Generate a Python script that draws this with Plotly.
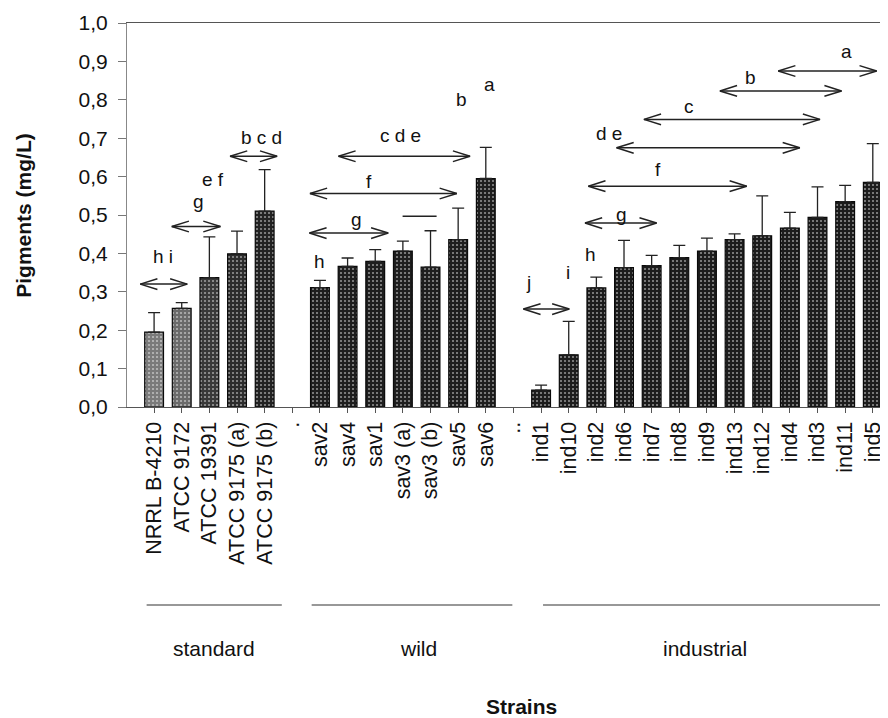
import plotly.graph_objects as go

# ---------------- data ----------------
standard_strains = ["NRRL B-4210", "ATCC 9172", "ATCC 19391", "ATCC 9175 (a)", "ATCC 9175 (b)"]
standard_means = [0.195, 0.257, 0.337, 0.399, 0.510]
standard_sd = [0.051, 0.015, 0.106, 0.059, 0.108]

wild_strains = ["sav2", "sav4", "sav1", "sav3 (a)", "sav3 (b)", "sav5", "sav6"]
wild_means = [0.311, 0.366, 0.379, 0.406, 0.364, 0.436, 0.595]
wild_sd = [0.019, 0.022, 0.031, 0.026, 0.095, 0.082, 0.081]

industrial_strains = ["ind1", "ind10", "ind2", "ind6", "ind7", "ind8", "ind9",
                      "ind13", "ind12", "ind4", "ind3", "ind11", "ind5"]
industrial_means = [0.044, 0.136, 0.310, 0.363, 0.368, 0.389, 0.406,
                    0.436, 0.446, 0.466, 0.494, 0.535, 0.585]
industrial_sd = [0.013, 0.087, 0.028, 0.071, 0.027, 0.032, 0.034,
                 0.015, 0.104, 0.041, 0.079, 0.042, 0.101]

spacer_labels = [".", ".."]
all_labels = standard_strains + [spacer_labels[0]] + wild_strains + [spacer_labels[1]] + industrial_strains

# significance groups: (start position, end position, level) in category units
arrow_spans = [
    (-0.50, 1.20, 0.320), (0.64, 2.40, 0.470), (2.75, 4.45, 0.653),
    (5.62, 8.47, 0.453), (5.64, 10.95, 0.556), (6.67, 11.43, 0.653),
    (13.36, 15.02, 0.255), (15.59, 18.18, 0.479), (15.71, 21.44, 0.575),
    (16.73, 23.36, 0.675), (17.72, 24.09, 0.749), (20.47, 24.87, 0.823),
    (22.58, 26.14, 0.875),
]
plain_spans = [(8.99, 10.22, 0.497)]
letters = [
    ("h i", 0.33, 0.391), ("g", 1.60, 0.536), ("e f", 2.14, 0.592), ("b c d", 3.90, 0.701),
    ("h", 6.00, 0.379), ("g", 7.33, 0.488), ("f", 7.79, 0.588), ("c d e", 8.92, 0.707),
    ("b", 11.13, 0.801), ("a", 12.13, 0.840),
    ("j", 13.54, 0.323), ("i", 14.99, 0.349), ("h", 15.79, 0.397), ("g", 16.91, 0.501),
    ("f", 18.24, 0.618), ("d e", 16.47, 0.711), ("c", 19.36, 0.783), ("b", 21.56, 0.859),
    ("a", 25.05, 0.927),
]

group_names = ["standard", "wild", "industrial"]
group_line_spans = [(-0.27, 4.62), (5.70, 12.96), (14.07, 26.60)]
group_label_pos = [2.17, 9.55, 19.93]

y_ticks = [0.0, 0.1, 0.2, 0.3, 0.4, 0.5, 0.6, 0.7, 0.8, 0.9, 1.0]

# ---------------- figure ----------------
FONT = "Liberation Sans, Arial, sans-serif"
XMIN, XMAX = -0.98, 26.55

def positions(names):
    return [all_labels.index(n) for n in names]

fig = go.Figure()

standard_colors = ["#7a7a7a", "#6a6a6a", "#383838", "#2c2c2c", "#222222"]
groups = [
    (standard_strains, standard_means, standard_sd, standard_colors),
    (wild_strains, wild_means, wild_sd, ["#1e1e1e"] * len(wild_strains)),
    (industrial_strains, industrial_means, industrial_sd, ["#1c1c1c"] * len(industrial_strains)),
]
for names, means, sd, cols in groups:
    fig.add_trace(go.Bar(
        x=positions(names), y=means, width=0.68,
        marker=dict(color=cols, line=dict(color="#0a0a0a", width=1.2),
                    pattern=dict(shape=".", fgcolor="#a8a8a8", size=4, solidity=0.22)),
        error_y=dict(type="data", symmetric=False, array=sd, arrayminus=[0] * len(sd),
                     color="#222222", thickness=1.3, width=6),
        showlegend=False, hoverinfo="skip",
    ))

# arrows (double headed, open chevrons)
L, H = 0.62, 0.014
ax, ay = [], []
for xs, xe, yv in arrow_spans:
    ax += [xs + L, xs, xs + L, None, xs, xe, None, xe - L, xe, xe - L, None]
    ay += [yv + H, yv, yv - H, None, yv, yv, None, yv + H, yv, yv - H, None]
for xs, xe, yv in plain_spans:
    ax += [xs, xe, None]
    ay += [yv, yv, None]
fig.add_trace(go.Scatter(x=ax, y=ay, mode="lines", line=dict(color="#222222", width=1.5),
                         showlegend=False, hoverinfo="skip", cliponaxis=False))

for txt, xv, yv in letters:
    fig.add_annotation(x=xv, y=yv, text=txt, showarrow=False, xref="x", yref="y",
                       font=dict(family=FONT, size=19, color="#111111"))

# group lines and labels below the axis
def to_paper(v):
    return (v - XMIN) / (XMAX - XMIN)

for (s, e), name, lp in zip(group_line_spans, group_names, group_label_pos):
    fig.add_shape(type="line", xref="paper", yref="paper",
                  x0=to_paper(s), x1=min(1.0, to_paper(e)), y0=-0.5156, y1=-0.5156,
                  line=dict(color="#333333", width=1.2))
    fig.add_annotation(x=lp, y=-0.628, xref="x", yref="paper", text=name, showarrow=False,
                       xanchor="center", yanchor="middle",
                       font=dict(family=FONT, size=21, color="#111111"))

fig.add_annotation(x=0.519, y=-0.781, xref="paper", yref="paper", text="<b>Strains</b>",
                   xanchor="center", yanchor="middle",
                   showarrow=False, font=dict(family=FONT, size=21, color="#111111"))
fig.add_annotation(x=-0.137, y=0.5, xref="paper", yref="paper", text="<b>Pigments (mg/L)</b>",
                   xanchor="center", yanchor="middle",
                   textangle=-90, showarrow=False, font=dict(family=FONT, size=21, color="#111111"))

# page body has an 8px default margin, so the figure is 8px smaller than the window
fig.update_layout(
    width=880, height=710,
    margin=dict(l=119, r=0, t=15, b=311),
    plot_bgcolor="white", paper_bgcolor="white",
    separators=", ",
    bargap=0.3,
    font=dict(family=FONT, color="#111111"),
    xaxis=dict(range=[XMIN, XMAX], tickmode="array", tickvals=list(range(len(all_labels))),
               ticktext=all_labels, tickangle=-90, ticks="outside", ticklen=5,
               tickcolor="#555555", showline=True, linecolor="#555555", linewidth=1.2,
               mirror=True, showgrid=False, zeroline=False,
               tickfont=dict(family=FONT, size=21.5, color="#111111"), automargin=False),
    yaxis=dict(range=[0, 1.0], tickmode="array", tickvals=y_ticks, tickformat=".1f",
               ticks="outside", ticklen=8, tickcolor="#777777", showline=True,
               linecolor="#888888", linewidth=1, showgrid=False, zeroline=False,
               ticklabelstandoff=6,
               tickfont=dict(family=FONT, size=21, color="#111111"), automargin=False),
)

fig.write_html("out.html")
